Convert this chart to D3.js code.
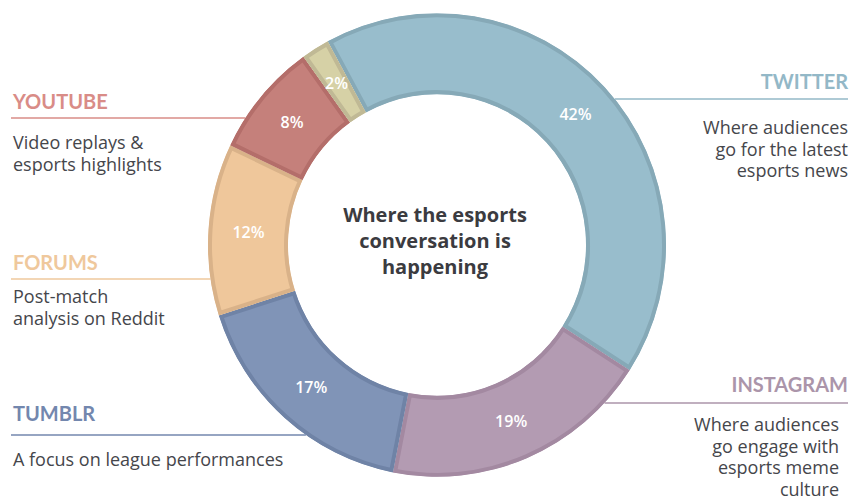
<!DOCTYPE html>
<html>
<head>
<meta charset="utf-8">
<script src="https://cdn.jsdelivr.net/npm/d3@7"></script>
<style>
  body { margin: 0; background: #fff; }
  svg { display: block; font-family: "Open Sans", Lato, sans-serif; }
</style>
</head>
<body>
<div id="chart"></div>
<script>
// data
const platforms = ["TWITTER", "INSTAGRAM", "TUMBLR", "FORUMS", "YOUTUBE", "OTHER"];
const shares = [42, 19, 17, 12, 8, 2];
const descriptions = [
  ["Where audiences", "go for the latest", "esports news"],
  ["Where audiences", "go engage with", "esports meme", "culture"],
  ["A focus on league performances"],
  ["Post-match", "analysis on Reddit"],
  ["Video replays &", "esports highlights"],
  []
];
const centerLines = ["Where the esports", "conversation is", "happening"];

// colours: fill, border, label
const fills   = ["#98bdcc", "#b39bb2", "#8094b7", "#efc79b", "#c5807b", "#d6d1a6"];
const borders = ["#86a9b7", "#a389a1", "#6f83a6", "#d9b289", "#b46e6a", "#c0b995"];
const labelColors = ["#93b8c7", "#ab95aa", "#7387ae", "#efc89c", "#d98c87", null];

// label layout (title baseline, line y, first description baseline)
const labelLayout = [
  {side: "right", title: 89, line: 99, desc: 134, x: 848},
  {side: "right", title: 392, line: 403, desc: 431, x: 839, tx: 848},
  {side: "left", title: 421, line: 435, desc: 466, x: 13},
  {side: "left", title: 270, line: 279, desc: 303, x: 13},
  {side: "left", title: 109, line: 118, desc: 149, x: 13},
  null
];

const W = 849, H = 501;
const cx = 437, cy = 245, outerR = 229, innerR = 149;
const yStretch = 1.012;
const startDeg = -28.5;

const svg = d3.select("#chart").append("svg")
  .attr("width", W).attr("height", H);

// label lines (drawn first, ring covers them)
labelLayout.forEach((L, i) => {
  if (!L) return;
  const dy = (L.line - cy) / yStretch;
  const edge = Math.sqrt(Math.max(outerR * outerR - dy * dy, 0));
  const x1 = L.side === "left" ? 11 : cx + edge;
  const x2 = L.side === "left" ? cx - edge : 848;
  svg.append("line")
    .attr("x1", x1).attr("x2", x2)
    .attr("y1", L.line).attr("y2", L.line)
    .attr("stroke", labelColors[i]).attr("stroke-width", 1.5);

  const anchor = L.side === "left" ? "start" : "end";
  svg.append("text")
    .attr("x", L.tx || L.x).attr("y", L.title)
    .attr("text-anchor", anchor)
    .attr("fill", labelColors[i])
    .style("font-family", "Lato, sans-serif")
    .style("font-size", "20px").style("font-weight", 700)
    .text(platforms[i]);

  descriptions[i].forEach((t, j) => {
    svg.append("text")
      .attr("x", L.x).attr("y", L.desc + j * 21.7)
      .attr("text-anchor", anchor)
      .attr("fill", "#45464b")
      .style("font-size", "18px")
      .text(t);
  });
});

// donut
const pie = d3.pie().sort(null)
  .startAngle(startDeg * Math.PI / 180)
  .endAngle(startDeg * Math.PI / 180 + 2 * Math.PI);
const arcs = pie(shares);
const arc = d3.arc().innerRadius(innerR).outerRadius(outerR);
const labelArc = d3.arc().innerRadius(189).outerRadius(189);

const g = svg.append("g").attr("transform", `translate(${cx},${cy}) scale(1,${yStretch})`);
const defs = svg.append("defs");

arcs.forEach((a, i) => {
  defs.append("clipPath").attr("id", "clip" + i)
    .append("path").attr("d", arc(a));
  g.append("path")
    .attr("d", arc(a))
    .attr("fill", fills[i])
    .attr("stroke", borders[i])
    .attr("stroke-width", 8)
    .attr("clip-path", `url(#clip${i})`);
});

const pctG = svg.append("g").attr("transform", `translate(${cx},${cy})`);
pctG.selectAll("text.pct")
  .data(arcs)
  .join("text")
  .attr("class", "pct")
  .attr("transform", d => {
    const [px, py] = labelArc.centroid(d);
    return `translate(${px},${py * yStretch})`;
  })
  .attr("text-anchor", "middle")
  .attr("dy", "0.35em")
  .attr("fill", "#fff")
  .style("font-size", "16px").style("font-weight", 600)
  .text(d => d.data + "%");

// centre text
svg.append("g").selectAll("text")
  .data(centerLines)
  .join("text")
  .attr("x", 435)
  .attr("y", (d, i) => 222 + i * 26)
  .attr("text-anchor", "middle")
  .attr("fill", "#3b3b40")
  .style("font-size", "20px").style("font-weight", 700)
  .text(d => d);
</script>
</body>
</html>
